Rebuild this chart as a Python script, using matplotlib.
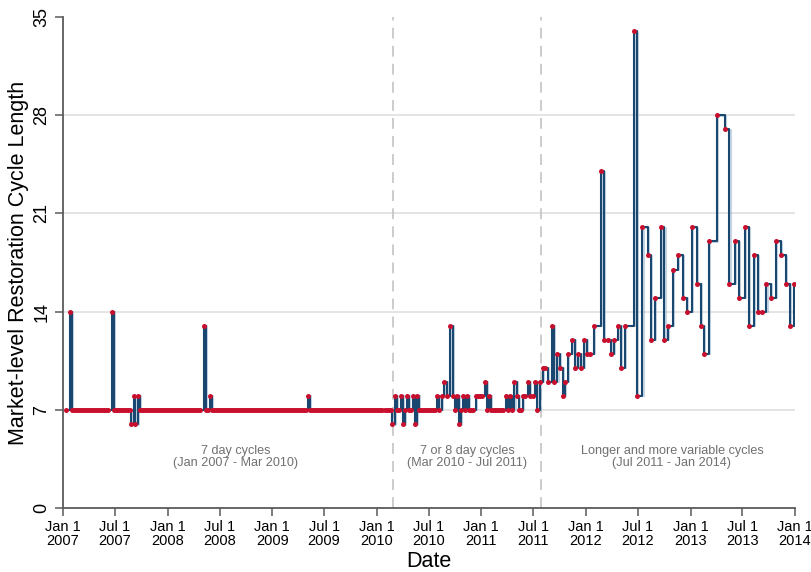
import numpy as np
import pandas as pd
import matplotlib
matplotlib.use("Agg")
import matplotlib.pyplot as plt
import matplotlib.patheffects as pe

# === Restoration cycle data ===
# each value is the number of days since the previous price restoration;
# the first restoration in the sample happened on first_restoration
first_restoration = "2007-01-10"

weekly_lengths = (
    [7, 14] + [7] * 19 + [14] + [7] * 9 + [6, 8, 6, 8] + [7] * 31
    + [13, 7, 7, 8] + [7] * 48 + [8] + [7] * 41
)
mixed_lengths = (
    [6, 8, 7, 7, 8, 6, 7, 8, 7, 7, 8, 6, 8] + [7] * 9
    + [8, 7, 8, 9, 8, 13]
    + [8, 7, 8, 6, 7, 8, 7, 8, 7, 7, 7, 8, 8, 8, 8, 9, 7, 8] + [7] * 7
    + [8, 7, 8, 7, 9, 8, 7, 7, 8, 8, 9, 8, 8, 9, 7, 9, 10, 10, 9]
)
variable_lengths = [
    13, 9, 11, 10, 8, 9, 11, 12, 10, 11, 10, 12, 11, 11, 13, 24, 12, 12, 11, 12,
    13, 10, 13, 34, 8, 20, 18, 12, 15, 20, 12, 13, 17, 18, 15, 14, 20, 16, 13, 11,
    19, 28, 27, 16, 19, 15, 20, 13, 18, 14, 14, 16, 15, 19, 18, 16, 13, 16,
]

# regime breaks and their captions
regime_breaks = ["2010-02-25", "2011-07-28"]
caption_dates = ["2008-08-27", "2010-11-12", "2012-10-28"]
captions = [
    "7 day cycles\n(Jan 2007 - Mar 2010)",
    "7 or 8 day cycles\n(Mar 2010 - Jul 2011)",
    "Longer and more variable cycles\n(Jul 2011 - Jan 2014)",
]

y_ticks = [0, 7, 14, 21, 28, 35]
x_ticks = pd.date_range("2007-01-01", "2014-01-01", freq="6MS")
x_tick_labels = [f"{d:%b} 1\n{d.year}" for d in x_ticks]

# === Build series ===
lengths = np.array(weekly_lengths + mixed_lengths + variable_lengths)
offsets = np.concatenate([[0], np.cumsum(lengths[1:])])
dates = pd.Timestamp(first_restoration) + pd.to_timedelta(offsets, unit="D")

# === Plot ===
plt.rcParams["font.family"] = ["Liberation Sans Narrow", "Liberation Sans", "DejaVu Sans"]

fig = plt.figure(figsize=(8.12, 5.72), dpi=100)
ax = fig.add_axes([0.0776, 0.1119, 0.9015, 0.8584])

navy = "#1a476f"
red = "#c8102e"
axis_grey = "#5a5a5a"

for y in y_ticks[1:-1]:
    ax.axhline(y, color="#e2e2e2", lw=1.3, zorder=0)

for d in regime_breaks:
    ax.axvline(pd.Timestamp(d), color="#c8c8c8", lw=1.3, ls=(0, (6, 4)), zorder=1)

ax.step(dates, lengths, where="post", color=navy, lw=1.5, zorder=3,
        path_effects=[pe.SimpleLineShadow(offset=(0.8, -0.5), shadow_color="#7fa2c4", alpha=0.45),
                      pe.Normal()])
ax.plot(dates, lengths, ls="none", marker="o", ms=3.6, color=red, mec=red, mew=0, zorder=4)

for d, txt in zip(caption_dates, captions):
    ax.text(pd.Timestamp(d), 3.6, txt, ha="center", va="center", fontsize=9.1,
            color="#707070", linespacing=1.0)

ax.set_xlim(pd.Timestamp("2007-01-01"), pd.Timestamp("2014-01-01"))
ax.set_ylim(0, 35)
ax.set_yticks(y_ticks)
ax.set_yticklabels([str(v) for v in y_ticks], rotation=90, va="center", fontsize=13)
ax.set_xticks(x_ticks)
ax.set_xticklabels(x_tick_labels, fontsize=10.5, linespacing=0.95)

ax.tick_params(axis="both", direction="out", length=6, width=1.1, color=axis_grey, pad=3)
for side in ["top", "right"]:
    ax.spines[side].set_visible(False)
for side in ["left", "bottom"]:
    ax.spines[side].set_color(axis_grey)
    ax.spines[side].set_linewidth(1.3)

ax.set_xlabel("Date", fontsize=15.5, labelpad=2)
ax.set_ylabel("Market-level Restoration Cycle Length", fontsize=15.5, labelpad=3)

fig.savefig("out.png", dpi=100)
